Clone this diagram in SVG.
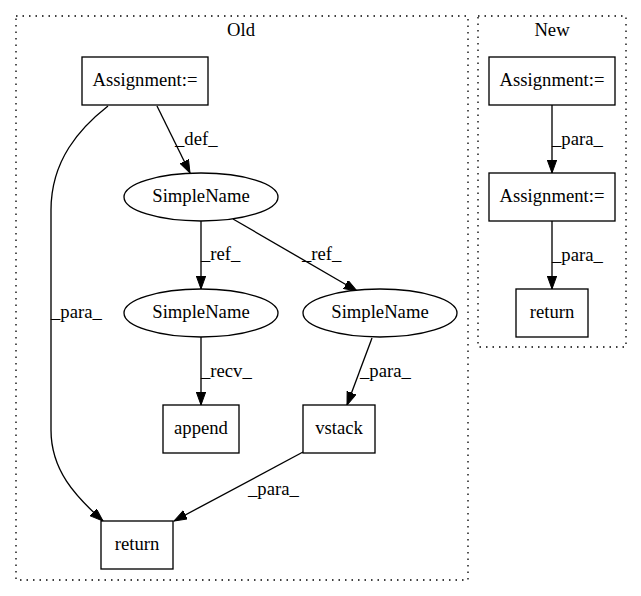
<svg xmlns="http://www.w3.org/2000/svg" width="641" height="596" viewBox="0 0 641 596">
<style>
text{font-family:"Liberation Serif","Times New Roman",serif;font-size:18.67px;fill:#000}
.c{text-anchor:middle}
.n{fill:#fff;stroke:#000;stroke-width:1.33}
.cl{fill:none;stroke:#000;stroke-width:1.33;stroke-dasharray:1.5,5}
.e{fill:none;stroke:#000;stroke-width:1.33;marker-end:url(#a)}
</style>
<defs>
<marker id="a" markerWidth="14" markerHeight="10" refX="13" refY="4.7" orient="auto" markerUnits="userSpaceOnUse">
<path d="M0,0 L13,4.7 L0,9.4 z" fill="#000" stroke="#000" stroke-width="1"/>
</marker>
</defs>
<rect width="641" height="596" fill="#fff"/>
<g id="cluster_old">
<rect class="cl" x="16" y="16" width="452" height="564"/>
<text class="c" x="241" y="36" font-family="Liberation Serif, serif" font-size="18.67">Old</text>
</g>
<g id="cluster_new">
<rect class="cl" x="478" y="16" width="148" height="331"/>
<text class="c" x="552" y="36">New</text>
</g>
<g id="edges">
<path class="e" d="M157,106 L190,173"/>
<text x="175" y="145">_def_</text>
<path class="e" d="M108,106 C80,128 51,160 51,210 L51,430 C51,470 75,496 103,521"/>
<text x="51" y="318">_para_</text>
<path class="e" d="M201,220 L201,289"/>
<text x="201" y="260">_ref_</text>
<path class="e" d="M233,219 L357,291"/>
<text x="302" y="260">_ref_</text>
<path class="e" d="M201,337 L201,405"/>
<text x="201" y="377">_recv_</text>
<path class="e" d="M372,338 L347,405"/>
<text x="360" y="377">_para_</text>
<path class="e" d="M303,452 L174,521"/>
<text x="248" y="495">_para_</text>
<path class="e" d="M552,105 L552,173"/>
<text x="552" y="145">_para_</text>
<path class="e" d="M552,221 L552,289"/>
<text x="552" y="261">_para_</text>
</g>
<g id="old_assignment">
<rect class="n" x="82" y="57" width="126" height="48"/>
<text class="c" x="145" y="86">Assignment:=</text>
</g>
<g id="old_simplename1">
<ellipse class="n" cx="201" cy="197" rx="77" ry="24"/>
<text class="c" x="201" y="202">SimpleName</text>
</g>
<g id="old_simplename2">
<ellipse class="n" cx="201" cy="313" rx="77" ry="24"/>
<text class="c" x="201" y="318">SimpleName</text>
</g>
<g id="old_simplename3">
<ellipse class="n" cx="380" cy="313" rx="77" ry="24"/>
<text class="c" x="380" y="318">SimpleName</text>
</g>
<g id="old_append">
<rect class="n" x="163" y="405" width="76" height="48"/>
<text class="c" x="201" y="434">append</text>
</g>
<g id="old_vstack">
<rect class="n" x="303" y="405" width="72" height="48"/>
<text class="c" x="339" y="434">vstack</text>
</g>
<g id="old_return">
<rect class="n" x="101" y="521" width="72" height="48"/>
<text class="c" x="137" y="550">return</text>
</g>
<g id="new_assignment1">
<rect class="n" x="489" y="57" width="126" height="48"/>
<text class="c" x="552" y="86">Assignment:=</text>
</g>
<g id="new_assignment2">
<rect class="n" x="489" y="173" width="126" height="48"/>
<text class="c" x="552" y="202">Assignment:=</text>
</g>
<g id="new_return">
<rect class="n" x="516" y="289" width="72" height="48"/>
<text class="c" x="552" y="318">return</text>
</g>
</svg>
